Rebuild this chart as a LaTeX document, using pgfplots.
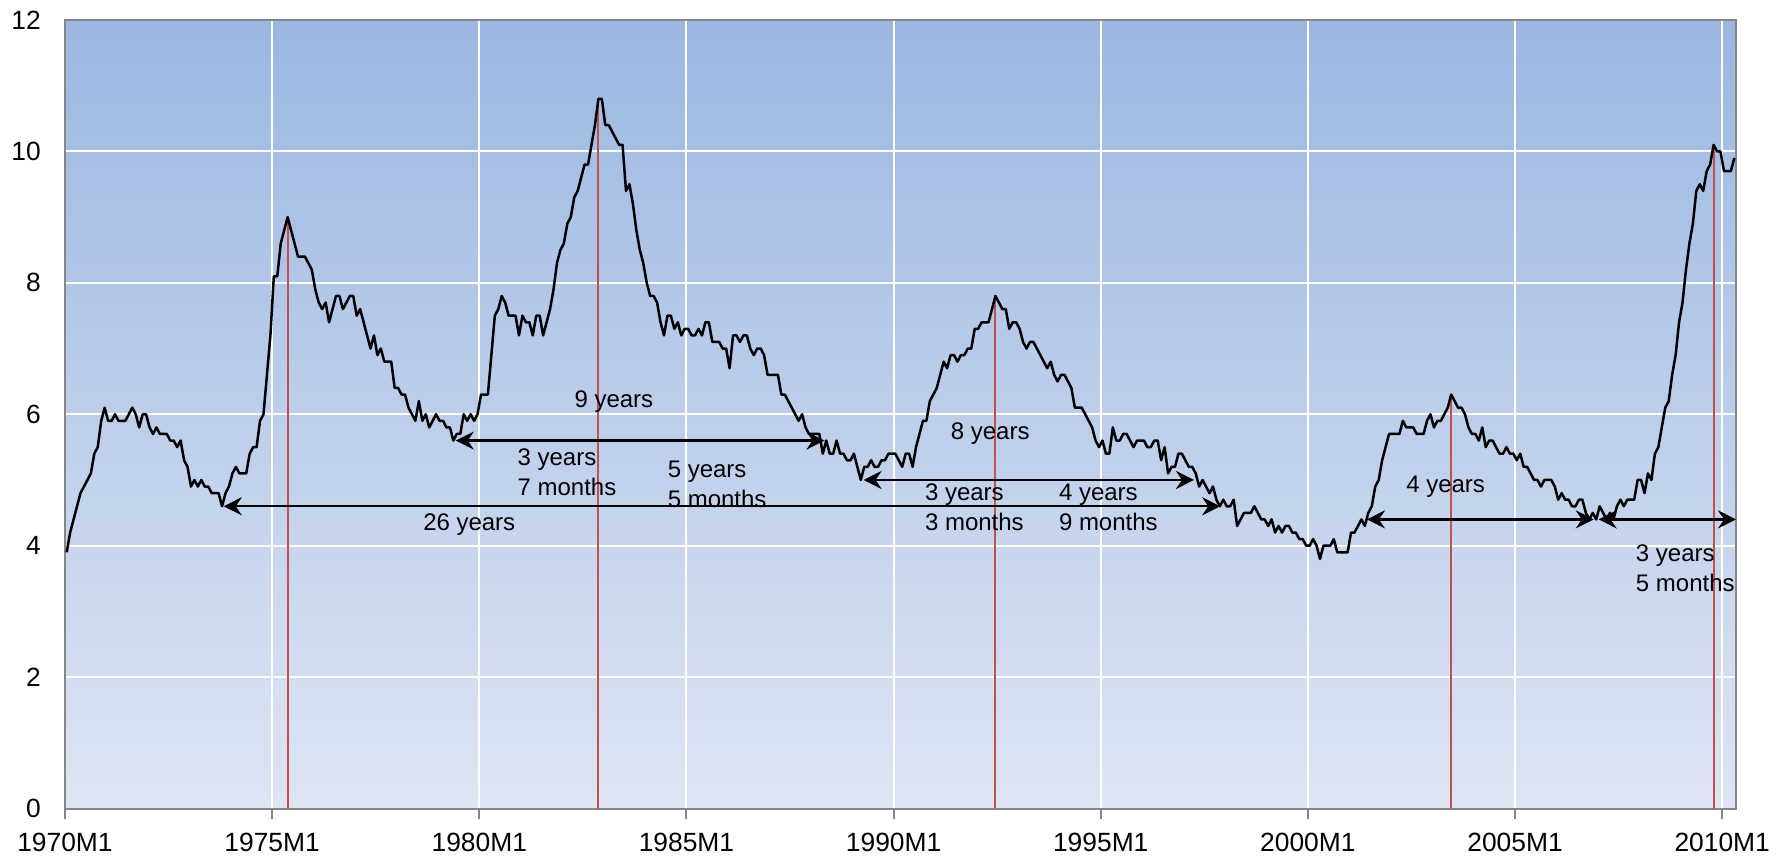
\documentclass[border=0pt]{standalone}
\usepackage{pgfplots}
\pgfplotsset{compat=1.18}
\usepackage{pgfplotstable}
\usepackage{fontspec}
\setmainfont{Liberation Sans}
\usetikzlibrary{arrows.meta}

\definecolor{bgtop}{RGB}{155,183,226}
\definecolor{bgbot}{RGB}{222,229,243}
\definecolor{peakred}{RGB}{192,80,77}
\definecolor{axisgray}{RGB}{134,134,134}

% monthly unemployment rate, 1970M1 -- 2010M4, one row per year
\pgfplotstableread[row sep=\\]{
u\\
3.9\\4.2\\4.4\\4.6\\4.8\\4.9\\5.0\\5.1\\5.4\\5.5\\5.9\\6.1\\
5.9\\5.9\\6.0\\5.9\\5.9\\5.9\\6.0\\6.1\\6.0\\5.8\\6.0\\6.0\\
5.8\\5.7\\5.8\\5.7\\5.7\\5.7\\5.6\\5.6\\5.5\\5.6\\5.3\\5.2\\
4.9\\5.0\\4.9\\5.0\\4.9\\4.9\\4.8\\4.8\\4.8\\4.6\\4.8\\4.9\\
5.1\\5.2\\5.1\\5.1\\5.1\\5.4\\5.5\\5.5\\5.9\\6.0\\6.6\\7.2\\
8.1\\8.1\\8.6\\8.8\\9.0\\8.8\\8.6\\8.4\\8.4\\8.4\\8.3\\8.2\\
7.9\\7.7\\7.6\\7.7\\7.4\\7.6\\7.8\\7.8\\7.6\\7.7\\7.8\\7.8\\
7.5\\7.6\\7.4\\7.2\\7.0\\7.2\\6.9\\7.0\\6.8\\6.8\\6.8\\6.4\\
6.4\\6.3\\6.3\\6.1\\6.0\\5.9\\6.2\\5.9\\6.0\\5.8\\5.9\\6.0\\
5.9\\5.9\\5.8\\5.8\\5.6\\5.7\\5.7\\6.0\\5.9\\6.0\\5.9\\6.0\\
6.3\\6.3\\6.3\\6.9\\7.5\\7.6\\7.8\\7.7\\7.5\\7.5\\7.5\\7.2\\
7.5\\7.4\\7.4\\7.2\\7.5\\7.5\\7.2\\7.4\\7.6\\7.9\\8.3\\8.5\\
8.6\\8.9\\9.0\\9.3\\9.4\\9.6\\9.8\\9.8\\10.1\\10.4\\10.8\\10.8\\
10.4\\10.4\\10.3\\10.2\\10.1\\10.1\\9.4\\9.5\\9.2\\8.8\\8.5\\8.3\\
8.0\\7.8\\7.8\\7.7\\7.4\\7.2\\7.5\\7.5\\7.3\\7.4\\7.2\\7.3\\
7.3\\7.2\\7.2\\7.3\\7.2\\7.4\\7.4\\7.1\\7.1\\7.1\\7.0\\7.0\\
6.7\\7.2\\7.2\\7.1\\7.2\\7.2\\7.0\\6.9\\7.0\\7.0\\6.9\\6.6\\
6.6\\6.6\\6.6\\6.3\\6.3\\6.2\\6.1\\6.0\\5.9\\6.0\\5.8\\5.7\\
5.7\\5.7\\5.7\\5.4\\5.6\\5.4\\5.4\\5.6\\5.4\\5.4\\5.3\\5.3\\
5.4\\5.2\\5.0\\5.2\\5.2\\5.3\\5.2\\5.2\\5.3\\5.3\\5.4\\5.4\\
5.4\\5.3\\5.2\\5.4\\5.4\\5.2\\5.5\\5.7\\5.9\\5.9\\6.2\\6.3\\
6.4\\6.6\\6.8\\6.7\\6.9\\6.9\\6.8\\6.9\\6.9\\7.0\\7.0\\7.3\\
7.3\\7.4\\7.4\\7.4\\7.6\\7.8\\7.7\\7.6\\7.6\\7.3\\7.4\\7.4\\
7.3\\7.1\\7.0\\7.1\\7.1\\7.0\\6.9\\6.8\\6.7\\6.8\\6.6\\6.5\\
6.6\\6.6\\6.5\\6.4\\6.1\\6.1\\6.1\\6.0\\5.9\\5.8\\5.6\\5.5\\
5.6\\5.4\\5.4\\5.8\\5.6\\5.6\\5.7\\5.7\\5.6\\5.5\\5.6\\5.6\\
5.6\\5.5\\5.5\\5.6\\5.6\\5.3\\5.5\\5.1\\5.2\\5.2\\5.4\\5.4\\
5.3\\5.2\\5.2\\5.1\\4.9\\5.0\\4.9\\4.8\\4.9\\4.7\\4.6\\4.7\\
4.6\\4.6\\4.7\\4.3\\4.4\\4.5\\4.5\\4.5\\4.6\\4.5\\4.4\\4.4\\
4.3\\4.4\\4.2\\4.3\\4.2\\4.3\\4.3\\4.2\\4.2\\4.1\\4.1\\4.0\\
4.0\\4.1\\4.0\\3.8\\4.0\\4.0\\4.0\\4.1\\3.9\\3.9\\3.9\\3.9\\
4.2\\4.2\\4.3\\4.4\\4.3\\4.5\\4.6\\4.9\\5.0\\5.3\\5.5\\5.7\\
5.7\\5.7\\5.7\\5.9\\5.8\\5.8\\5.8\\5.7\\5.7\\5.7\\5.9\\6.0\\
5.8\\5.9\\5.9\\6.0\\6.1\\6.3\\6.2\\6.1\\6.1\\6.0\\5.8\\5.7\\
5.7\\5.6\\5.8\\5.5\\5.6\\5.6\\5.5\\5.4\\5.4\\5.5\\5.4\\5.4\\
5.3\\5.4\\5.2\\5.2\\5.1\\5.0\\5.0\\4.9\\5.0\\5.0\\5.0\\4.9\\
4.7\\4.8\\4.7\\4.7\\4.6\\4.6\\4.7\\4.7\\4.5\\4.4\\4.5\\4.4\\
4.6\\4.5\\4.4\\4.5\\4.4\\4.6\\4.7\\4.6\\4.7\\4.7\\4.7\\5.0\\
5.0\\4.8\\5.1\\5.0\\5.4\\5.5\\5.8\\6.1\\6.2\\6.6\\6.9\\7.4\\
7.7\\8.2\\8.6\\8.9\\9.4\\9.5\\9.4\\9.7\\9.8\\10.1\\10.0\\10.0\\
9.7\\9.7\\9.7\\9.9\\
}\unrate

\begin{document}
\begin{tikzpicture}[
  arr/.style={{Stealth[length=9pt,width=9pt,inset=3pt]}-{Stealth[length=9pt,width=9pt,inset=3pt]}, line width=1.2pt, black},
  lbl/.style={font=\fontsize{12}{15}\selectfont, inner sep=0pt}
]
\begin{axis}[
  scale only axis,
  width=836pt, height=394.5pt,
  xmin=0, xmax=484, ymin=0, ymax=12,
  xtick={0,60,...,480},
  xticklabels={1970M1,1975M1,1980M1,1985M1,1990M1,1995M1,2000M1,2005M1,2010M1},
  ytick={0,2,...,12},
  grid=major,
  major grid style={white, line width=1pt},
  axis line style={axisgray, line width=1pt},
  tick align=outside,
  xtick pos=lower,
  ytick pos=left,
  major tick length=5pt,
  xtick style={axisgray, line width=1pt},
  ytick style={draw=none},
  /pgf/number format/assume math mode=true,
  tick label style={font=\fontsize{13.2}{15}\selectfont},
  xticklabel style={yshift=-3.6pt},
  yticklabel style={xshift=-3.6pt},
  axis background/.style={top color=bgtop, bottom color=bgbot},
  clip=false,
]
% peaks
\addplot[ycomb, no markers, peakred, line width=1pt] coordinates {
  (64.5,9.0) (154.5,10.8) (269.5,7.8) (401.5,6.3) (477.5,10.1)
};
% unemployment rate
\addplot[black, line width=1.25pt, no markers, line join=round] table[x expr=\coordindex+0.5, y=u] {\unrate};

% spans between troughs and peaks
\addplot[arr] coordinates {(46,4.6) (334.6,4.6)};
\addplot[arr] coordinates {(113.2,5.6) (220,5.6)};
\addplot[arr] coordinates {(231.3,5.0) (327,5.0)};
\addplot[arr] coordinates {(377.1,4.4) (442.8,4.4)};
\addplot[arr] coordinates {(444.2,4.4) (484,4.4)};

\node[lbl] at (axis cs:159,6.19) {9 years};
\node[lbl, anchor=west, align=left] at (axis cs:131,5.12) {3 years\\7 months};
\node[lbl, anchor=west, align=left] at (axis cs:174.5,4.93) {5 years\\5 months};
\node[lbl] at (axis cs:117.1,4.32) {26 years};
\node[lbl] at (axis cs:268,5.70) {8 years};
\node[lbl, anchor=west, align=left] at (axis cs:249,4.58) {3 years\\3 months};
\node[lbl, anchor=west, align=left] at (axis cs:287.8,4.58) {4 years\\9 months};
\node[lbl] at (axis cs:399.9,4.89) {4 years};
\node[lbl, anchor=west, align=left] at (axis cs:454.9,3.66) {3 years\\5 months};
\end{axis}
\pgfresetboundingbox
\path ([shift={(-32.5pt,-24.5pt)}]current axis.south west) rectangle ([shift={(25pt,10pt)}]current axis.north east);
\end{tikzpicture}
\end{document}
